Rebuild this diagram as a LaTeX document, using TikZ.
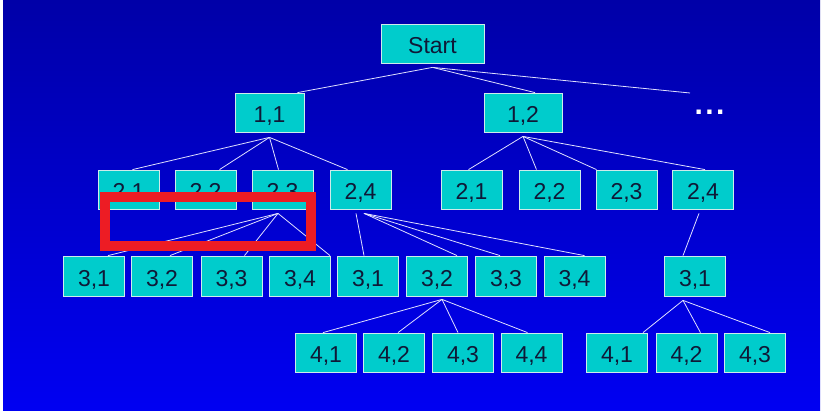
\documentclass[tikz,border=0pt]{standalone}
\usepackage{fontspec}
\setmainfont{Liberation Sans}

\definecolor{boxfill}{RGB}{0,204,204}
\definecolor{boxline}{RGB}{205,235,235}
\definecolor{ink}{RGB}{15,25,55}
\definecolor{linecol}{RGB}{225,225,255}
\definecolor{markred}{RGB}{237,28,36}
\definecolor{skytop}{RGB}{0,0,168}
\definecolor{skybot}{RGB}{0,0,242}

\tikzset{
  box/.style={draw=boxline, fill=boxfill, text=ink, line width=0.8pt,
    minimum width=61pt, minimum height=39pt, inner sep=0pt,
    text height=20.5pt, text depth=0pt,
    font=\fontsize{23}{23}\selectfont},
  dots/.style={text=white, anchor=base, inner sep=0pt,
    font=\fontsize{30}{30}\selectfont\bfseries},
  frame/.style={draw=markred, line width=10pt}
}

\begin{document}
\begin{tikzpicture}[x=1pt,y=-1pt,
    every edge/.style={draw=linecol, line width=0.8pt}]
            \useasboundingbox (0,0) rectangle (823,411);
            \shade[top color=skytop, bottom color=skybot] (3,1) rectangle (820,411);

            \node[box, minimum width=103pt] (S) at (432.5,43.5) {Start};
            \node[box, minimum width=69pt] (A1) at (269.5,112.5) {1,1};
            \node[box, minimum width=78pt] (A2) at (523,112.5) {1,2};
            \node[dots] (D) at (709.5,115) {.\hspace{2.5pt}.\hspace{2.5pt}.};
            \coordinate (Dt) at (690,93);

            \node[box] (B1) at (128.5,189.5) {2,1};
            \node[box] (B2) at (205.5,189.5) {2,2};
            \node[box] (B3) at (282.5,189.5) {2,3};
            \node[box] (B4) at (360.5,189.5) {2,4};
            \node[box] (C1) at (471.5,189.5) {2,1};
            \node[box] (C2) at (549.5,189.5) {2,2};
            \node[box] (C3) at (626.5,189.5) {2,3};
            \node[box] (C4) at (703,189.5) {2,4};

            \node[box, minimum height=40pt] (E1) at (94,276) {3,1};
            \node[box, minimum height=40pt] (E2) at (162,276) {3,2};
            \node[box, minimum height=40pt] (E3) at (231.5,276) {3,3};
            \node[box, minimum height=40pt] (E4) at (300,276) {3,4};
            \node[box, minimum height=40pt] (F1) at (368,276) {3,1};
            \node[box, minimum height=40pt] (F2) at (437,276) {3,2};
            \node[box, minimum height=40pt] (F3) at (506,276) {3,3};
            \node[box, minimum height=40pt] (F4) at (574.5,276) {3,4};
            \node[box, minimum height=40pt] (G1) at (695,276) {3,1};

            \node[box] (H1) at (326,352.5) {4,1};
            \node[box] (H2) at (394,352.5) {4,2};
            \node[box] (H3) at (463,352.5) {4,3};
            \node[box] (H4) at (531.5,352.5) {4,4};
            \node[box] (K1) at (617,352.5) {4,1};
            \node[box] (K2) at (686.5,352.5) {4,2};
            \node[box] (K3) at (755,352.5) {4,3};

            \path ([yshift=-4pt]S.south) edge ([xshift=28pt]A1.north);
            \path ([yshift=-4pt]S.south) edge ([xshift=12pt]A2.north);
            \path ([yshift=-4pt]S.south) edge (Dt);

            \path ([yshift=-5pt]A1.south) edge ([xshift=4pt]B1.north);
            \path ([yshift=-5pt]A1.south) edge ([xshift=14pt]B2.north);
            \path ([yshift=-5pt]A1.south) edge ([xshift=-4pt]B3.north);
            \path ([yshift=-5pt]A1.south) edge ([xshift=-13pt]B4.north);
            \path ([yshift=-4pt]A2.south) edge ([xshift=-3pt]C1.north);
            \path ([yshift=-4pt]A2.south) edge ([xshift=-13pt]C2.north);
            \path ([yshift=-4pt]A2.south) edge ([xshift=-30pt]C3.north);
            \path ([yshift=-4pt]A2.south) edge ([xshift=2pt]C4.north);

            \path ([xshift=-4.5pt,yshift=-4pt]B3.south) edge ([xshift=14pt]E1.north);
            \path ([xshift=-4.5pt,yshift=-4pt]B3.south) edge ([xshift=8pt]E2.north);
            \path ([xshift=-4.5pt,yshift=-4pt]B3.south) edge ([xshift=13pt]E3.north);
            \path ([xshift=-4.5pt,yshift=-4pt]B3.south) edge ([xshift=30pt]E4.north);
            \path ([xshift=-4.5pt,yshift=-4pt]B4.south) edge ([xshift=-4pt]F1.north);
            \path ([xshift=3.5pt,yshift=-4pt]B4.south) edge ([xshift=20pt]F2.north);
            \path ([xshift=3.5pt,yshift=-4pt]B4.south) edge ([xshift=-6pt]F3.north);
            \path ([xshift=3.5pt,yshift=-4pt]B4.south) edge ([xshift=10pt]F4.north);
            \path ([xshift=-4pt,yshift=-4pt]C4.south) edge ([xshift=-12pt]G1.north);

            \path ([xshift=5pt,yshift=-3pt]F2.south) edge ([xshift=-3pt]H1.north);
            \path ([xshift=5pt,yshift=-3pt]F2.south) edge ([xshift=4pt]H2.north);
            \path ([xshift=5pt,yshift=-3pt]F2.south) edge ([xshift=-5pt]H3.north);
            \path ([xshift=5pt,yshift=-3pt]F2.south) edge ([xshift=-4pt]H4.north);
            \path ([xshift=-12pt,yshift=-4pt]G1.south) edge ([xshift=26pt]K1.north);
            \path ([xshift=-12pt,yshift=-4pt]G1.south) edge ([xshift=14pt]K2.north);
            \path ([xshift=-12pt,yshift=-4pt]G1.south) edge ([xshift=15pt]K3.north);

            \draw[frame] (105,197) rectangle (310.5,246.5);
\end{tikzpicture}
\end{document}
